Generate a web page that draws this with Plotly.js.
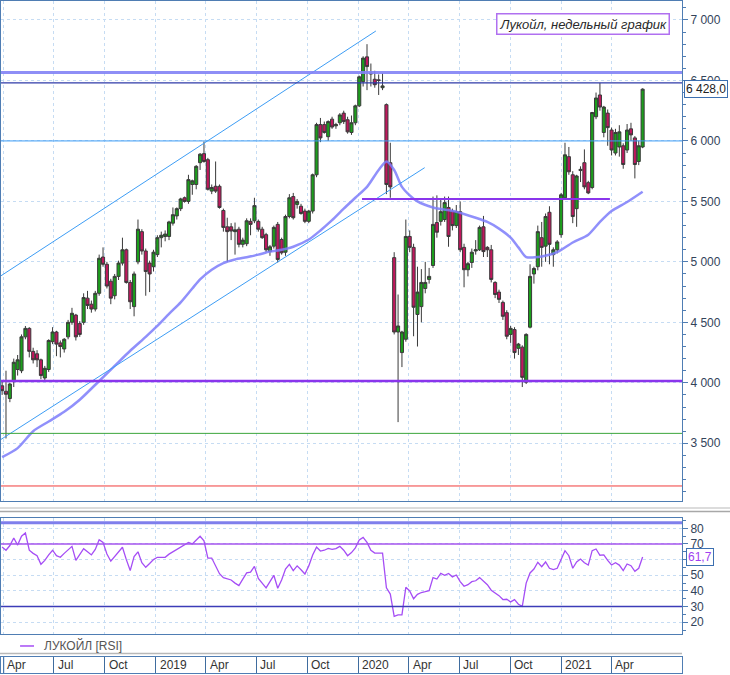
<!DOCTYPE html>
<html><head><meta charset="utf-8">
<script src="https://cdn.plot.ly/plotly-3.0.1.min.js"></script>
<style>html,body{margin:0;padding:0;background:#fff;}#chart{width:730px;height:675px;}</style>
</head><body><div id="chart"></div>
<script>
// ---- data (weekly candles, Lukoil) ----
const weekStart = '2018-03-30';
const open = [
3975,3930,3870,4010,4110,4100,4380,4450,4260,4240,
4190,4040,4110,4340,4420,4330,4280,4380,4500,4560,
4490,4500,4700,4650,4610,4740,5040,4980,4840,4720,
4880,4990,5100,4830,4630,5000,5250,5090,4990,4960,
5060,5200,5210,5210,5320,5380,5440,5530,5500,5640,
5640,5820,5895,5845,5585,5625,5625,5425,5290,5290,
5250,5270,5145,5150,5335,5340,5335,5270,5225,5085,
5130,5310,5185,5080,5375,5540,5475,5460,5420,5335,
5420,5720,6135,6135,6035,6180,6125,6150,6230,6175,
6070,6150,6290,6490,6695,6560,6510,6505,6440,6300,
5820,5035,4420,4250,4360,5210,5120,4565,4630,4780,
4855,4970,5325,5335,5350,5450,5420,5300,5415,5120,
4935,4995,5090,5100,5290,5120,5100,4830,4750,4665,
4580,4400,4440,4285,4295,4005,4460,4900,4960,5200,
5130,5410,5060,5100,5225,5530,5870,5720,5440,5755,
5820,5655,5615,6200,6380,6070,6230,6090,5900,5950,
5960,5925,6100,6025,5830,5950];
const high = [
4010,4100,4000,4200,4230,4400,4470,4460,4290,4270,
4200,4140,4360,4460,4430,4350,4370,4520,4620,4570,
4510,4740,4760,4680,4760,5060,5120,5000,4860,4900,
5010,5200,5110,4850,4920,5350,5270,5110,5010,5100,
5220,5250,5260,5340,5450,5450,5530,5540,5720,5680,
5800,5900,5995,5860,5640,5830,5640,5440,5365,5320,
5325,5290,5200,5360,5360,5530,5350,5290,5240,5140,
5300,5330,5200,5390,5560,5570,5520,5480,5440,5430,
5730,6150,6190,6160,6170,6200,6150,6230,6250,6200,
6210,6300,6540,6700,6800,6640,6580,6550,6560,6310,
5985,5080,4730,4430,5350,5260,5150,4960,4940,5000,
4950,5540,5550,5520,5540,5540,5440,5470,5500,5150,
5000,5110,5180,5300,5380,5130,5140,4840,4770,4680,
4600,4470,4460,4330,4310,4410,4980,4960,5300,5330,
5400,5460,5120,5180,5570,5985,5950,5750,5720,5790,
5930,5670,6240,6400,6480,6290,6260,6110,6100,6130,
5980,6140,6150,6040,6000,6435];
const low = [
3900,3540,3840,3965,4060,4080,4360,4210,4160,4130,
4030,4015,4090,4320,4220,4210,4250,4360,4480,4350,
4380,4480,4610,4580,4590,4720,4960,4780,4650,4690,
4850,4970,4820,4610,4550,4980,5060,4720,4750,4920,
5040,5120,5170,5180,5300,5350,5420,5490,5480,5555,
5600,5760,5820,5590,5560,5570,5440,5250,5000,5180,
5060,5120,5120,5130,5220,5320,5250,5190,5080,5050,
5110,4995,5060,5050,5360,5350,5440,5390,5320,5320,
5400,5700,5990,6060,6000,6100,6100,6130,6140,6060,
6050,6130,6280,6450,6420,6450,6440,6380,6420,5560,
5530,4400,3675,4130,4340,5080,4385,4300,4500,4740,
4820,4950,5200,5300,5330,5125,5260,5280,5080,4790,
4880,4950,5060,5090,5040,5040,4830,4700,4660,4520,
4360,4330,4200,4230,3965,3990,4450,4820,4930,4960,
5000,4980,4960,5070,5200,5520,5720,5320,5290,5660,
5600,5560,5600,6180,6250,6030,5960,5880,5880,5870,
5770,5900,6000,5690,5800,5940];
const close = [
3935,3905,3990,4170,4190,4380,4450,4260,4190,4190,
4060,4120,4350,4420,4320,4300,4360,4500,4575,4380,
4400,4705,4640,4610,4740,5030,4980,4800,4700,4880,
4990,5100,4830,4670,4900,5270,5090,4920,4900,5080,
5200,5220,5230,5330,5390,5440,5520,5500,5680,5670,
5790,5890,5830,5600,5615,5585,5450,5285,5250,5255,
5265,5145,5180,5340,5310,5465,5270,5200,5100,5125,
5285,5020,5075,5375,5530,5365,5500,5400,5335,5420,
5720,6135,6025,6070,6160,6115,6135,6215,6160,6075,
6150,6290,6530,6685,6615,6555,6465,6500,6455,5640,
5620,4420,4470,4420,5210,5120,4625,4750,4830,4830,
4880,5310,5245,5415,5490,5210,5300,5415,5100,4935,
4985,5080,5100,5285,5085,5100,4855,4730,4690,4550,
4385,4450,4250,4320,4045,4400,4880,4945,5250,5120,
5375,5145,5100,5165,5555,5885,5745,5375,5710,5765,
5620,5570,6235,6355,6280,6280,6110,5925,6070,6075,
5805,6090,6050,5805,5960,6428];
const rsi = [
68,66,69,73.8,69.3,75,77,66,64,62.5,
57,59.5,63,66,62.5,61.5,64,66,68.5,59.5,
63,67,65,63,66.5,72.7,71,63.6,59,62,
65,67.9,60,53,62,65,58,55.1,57.5,60,
61.5,61.5,61.5,63.5,65,66.5,68.5,70,71,70,
72.5,74.9,72,61,61,56,51,48.5,47.8,47,
45,43.4,47.5,51.5,52,55.7,48,45,42,46,
50,41.7,47,54,57,53,56,53.5,50.8,56,
63,68,65.5,66,67.2,66.5,67,68.5,66,62.5,
64.5,67.5,72.5,74.2,71,66,64.2,64.2,64.2,42,
38,23.8,24.7,24.7,42.3,40,35,37.8,39,39.5,
40.2,48.5,47.6,51.2,50,51.2,49,50.2,46,43,
44,45.9,46.5,48.5,46.5,44,40.5,39,37,34.5,
34.7,33,34.5,31.5,30.2,45,51.5,54,58.3,55.5,
58.5,54.5,53.6,54.5,60,65.7,62.5,54.5,58.5,60.4,
58,56.5,65.7,66.8,62.8,63,59.5,56.6,58,56.5,
53,57.2,56.1,52.5,54.5,61.7];
// moving average, read at selected weeks (week index -> value)
const maIdx = [0,4,8,12,16,20,25,29,33,37,40,43,46,49,51,54,57,60,63,66,69,72,75,79,82,85,88,91,94,97,99,101,103,105,107,111,117,122,125,128,131,133,135,139,143,147,151,154,157,161,165];
const maVal = [3385,3460,3600,3680,3760,3860,4015,4140,4265,4380,4470,4570,4665,4780,4855,4935,4990,5020,5038,5060,5085,5100,5125,5185,5260,5345,5440,5530,5620,5760,5830,5760,5620,5550,5500,5450,5415,5365,5330,5275,5200,5120,5040,5045,5080,5160,5225,5330,5420,5495,5580];
// drawn trend channel and levels
const chanUpperDates = ['2018-03-28','2020-02-02'];
const chanUpperVals = [4885, 6909];
const chanLowerDates = ['2018-03-28','2020-04-30'];
const chanLowerVals = [3532, 5779];
const levelVals = [6565, 6480, 6000, 4015, 3582, 3147];
const segDates = ['2020-01-08','2021-03-30'];
const segVal = 5520;
const rsiLevels = [83.5, 70, 30];
// axes
const xRange = ['2018-03-28','2021-08-07'];
const quarterTicks = ['2018-04-01','2018-07-01','2018-10-01','2019-01-01','2019-04-01','2019-07-01','2019-10-01','2020-01-01','2020-04-01','2020-07-01','2020-10-01','2021-01-01','2021-04-01'];
const quarterLabels = ['Apr','Jul','Oct','2019','Apr','Jul','Oct','2020','Apr','Jul','Oct','2021','Apr'];
const yTicks = [3500,4000,4500,5000,5500,6000,6500,7000];
const rsiTicks = [20,30,40,50,60,70,80];
const rsiTickText = ['20','30','40','50','','70','80'];
const titleText = 'Лукойл, недельный график';
const legendText = 'ЛУКОЙЛ [RSI]';

// ---- styles ----
const levelStyles = [
  {color:'rgba(130,130,245,0.9)', width:3},
  {color:'#2f3aa8', width:1.3},
  {color:'#3d9df5', width:1},
  {color:'#8a35ec', width:2.5},
  {color:'#3aa53a', width:1},
  {color:'#f03c3c', width:1}
];
const rsiLevelStyles = [
  {color:'rgba(120,120,235,0.95)', width:3},
  {color:'#a455ee', width:1.5},
  {color:'#3c3cb8', width:1.5}
];
const frame = '#4f7db3';
const gridC = '#c6dcf3';
const tickFont = {family:'Liberation Sans, Arial, sans-serif', size:12, color:'#33435a'};

function weekly(start, n){
  const out=[]; const d0=new Date(start+'T00:00:00Z');
  for(let i=0;i<n;i++){ out.push(new Date(d0.getTime()+i*7*86400000).toISOString().slice(0,10)); }
  return out;
}
const dates = weekly(weekStart, close.length);
function fmt(v, dec){
  const parts = v.toFixed(dec).split('.');
  const int = parts[0].replace(/\B(?=(\d{3})+(?!\d))/g,' ');
  return parts.length>1 ? int+','+parts[1] : int;
}

const traces = [];
traces.push({
  type:'candlestick', x:dates, open:open, high:high, low:low, close:close,
  xaxis:'x', yaxis:'y', whiskerwidth:0, hoverinfo:'none', showlegend:false,
  increasing:{line:{color:'#3a3a3a', width:1}, fillcolor:'#1c9e1c'},
  decreasing:{line:{color:'#3a3a3a', width:1}, fillcolor:'#c0175d'}
});
traces.push({type:'scatter', mode:'lines', x:maIdx.map(i=>dates[i]), y:maVal, xaxis:'x', yaxis:'y',
  line:{color:'rgba(125,125,250,0.85)', width:2.5, shape:'spline', smoothing:0.7}, hoverinfo:'none', showlegend:false});
traces.push({type:'scatter', mode:'lines', x:chanUpperDates, y:chanUpperVals, xaxis:'x', yaxis:'y',
  line:{color:'#3d9df5', width:1}, hoverinfo:'none', showlegend:false});
traces.push({type:'scatter', mode:'lines', x:chanLowerDates, y:chanLowerVals, xaxis:'x', yaxis:'y',
  line:{color:'#3d9df5', width:1}, hoverinfo:'none', showlegend:false});
traces.push({type:'scatter', mode:'lines', x:segDates, y:[segVal, segVal], xaxis:'x', yaxis:'y',
  line:{color:'#8a35ec', width:2}, hoverinfo:'none', showlegend:false});
traces.push({type:'scatter', mode:'lines', x:dates, y:rsi, xaxis:'x2', yaxis:'y2',
  line:{color:'#a54df5', width:1.3}, hoverinfo:'none', showlegend:false});

const shapes = [];
levelVals.forEach((v,k)=>shapes.push({type:'line', xref:'x domain', x0:0, x1:1, yref:'y', y0:v, y1:v, line:levelStyles[k], layer:'above'}));
rsiLevels.forEach((v,k)=>shapes.push({type:'line', xref:'x2 domain', x0:0, x1:1, yref:'y2', y0:v, y1:v, line:rsiLevelStyles[k], layer:'above'}));
// panel splitters and legend line
shapes.push({type:'line', xref:'paper', yref:'paper', x0:-0.002, x1:1.075, y0:0.2455, y1:0.2455, line:{color:'#d0d0d0', width:1.5}});
shapes.push({type:'line', xref:'paper', yref:'paper', x0:-0.002, x1:1.075, y0:0.2405, y1:0.2405, line:{color:'#a8a8a8', width:1.5}});
shapes.push({type:'line', xref:'paper', yref:'paper', x0:-0.002, x1:1.0, y0:0.0290, y1:0.0290, line:{color:'#b8b8b8', width:1.5}});
shapes.push({type:'line', xref:'paper', yref:'paper', x0:0.004, x1:0.004, y0:0, y1:0.0238, line:{color:frame, width:1}});
shapes.push({type:'line', xref:'paper', yref:'paper', x0:0.028, x1:0.0485, y0:0.0402, y1:0.0402, line:{color:'#a54df5', width:1.5}});

const annotations = [];
quarterTicks.forEach((d,k)=>annotations.push({xref:'x3', yref:'y3', x:d, y:0.5, xanchor:'left', yanchor:'middle', xshift:2,
  text:quarterLabels[k], showarrow:false, font:{family:'Liberation Sans, Arial, sans-serif', size:12, color:'#333'}}));
annotations.push({xref:'paper', yref:'paper', x:0.8546, y:0.9658, xanchor:'center', yanchor:'middle', showarrow:false,
  text:'<i>'+titleText+'</i>', font:{family:'Liberation Sans, Arial, sans-serif', size:13, color:'#2a2a2a'},
  bordercolor:'#b070f0', borderwidth:1.5, borderpad:2, bgcolor:'#ffffff'});
annotations.push({xref:'paper', yref:'y', x:1, y:close[close.length-1], xanchor:'left', yanchor:'middle', xshift:2, showarrow:false,
  text:fmt(close[close.length-1],1), font:{family:'Liberation Sans, Arial, sans-serif', size:12, color:'#222'},
  bordercolor:'#3c6fb0', borderwidth:1, borderpad:1, bgcolor:'#ffffff'});
annotations.push({xref:'paper', yref:'y2', x:1, y:rsi[rsi.length-1], xanchor:'left', yanchor:'middle', xshift:4, showarrow:false,
  text:fmt(rsi[rsi.length-1],1), font:{family:'Liberation Sans, Arial, sans-serif', size:12, color:'#a040f0'},
  bordercolor:'#3c6fb0', borderwidth:1, borderpad:1, bgcolor:'#ffffff'});
annotations.push({xref:'paper', yref:'paper', x:0.0602, y:0.0402, xanchor:'left', yanchor:'middle', showarrow:false,
  text:legendText, font:{family:'Liberation Sans, Arial, sans-serif', size:12, color:'#555'}});

const xBase = {type:'date', range:xRange, tickmode:'array', tickvals:quarterTicks, showticklabels:false, ticks:'',
  showgrid:true, gridcolor:gridC, griddash:'3px,3px', gridwidth:1, showline:true, mirror:true, linecolor:frame, linewidth:1,
  zeroline:false, fixedrange:true, rangeslider:{visible:false}};
const layout = {
  width:730, height:675, margin:{l:1, r:48, t:1, b:2},
  paper_bgcolor:'#ffffff', plot_bgcolor:'#ffffff', showlegend:false, hovermode:false,
  separators:', ', boxgap:0.12, boxgroupgap:0.1,
  xaxis:Object.assign({}, xBase, {anchor:'y', domain:[0,1]}),
  xaxis2:Object.assign({}, xBase, {anchor:'y2', matches:'x', domain:[0,1]}),
  xaxis3:Object.assign({}, xBase, {anchor:'y3', matches:'x', domain:[0,1], gridcolor:'#3f6c9e', griddash:'solid'}),
  yaxis:{domain:[0.256,1], anchor:'x', side:'right', range:[3023,7157], tickmode:'linear', tick0:yTicks[0], dtick:yTicks[1]-yTicks[0],
    tickformat:',d', ticks:'outside', ticklen:5, tickcolor:frame, tickfont:tickFont,
    minor:{dtick:100, tick0:0, ticks:'outside', ticklen:3, tickcolor:frame, showgrid:false},
    showline:true, mirror:true, linecolor:frame, showgrid:true, gridcolor:gridC, griddash:'3px,3px', zeroline:false, fixedrange:true},
  yaxis2:{domain:[0.058,0.2307], anchor:'x2', side:'right', range:[12.5,86.6], tickmode:'array', tickvals:rsiTicks, ticktext:rsiTickText,
    ticks:'outside', ticklen:5, tickcolor:frame, tickfont:tickFont,
    minor:{dtick:5, tick0:0, ticks:'outside', ticklen:3, tickcolor:frame, showgrid:false},
    showline:true, mirror:true, linecolor:frame, showgrid:true, gridcolor:gridC, griddash:'3px,3px', zeroline:false, fixedrange:true},
  yaxis3:{domain:[0,0.0238], anchor:'x3', range:[0,1], showticklabels:false, ticks:'', showgrid:false,
    showline:true, mirror:true, linecolor:frame, zeroline:false, fixedrange:true},
  shapes:shapes, annotations:annotations
};
Plotly.newPlot('chart', traces, layout, {staticPlot:true, displayModeBar:false});
</script></body></html>
